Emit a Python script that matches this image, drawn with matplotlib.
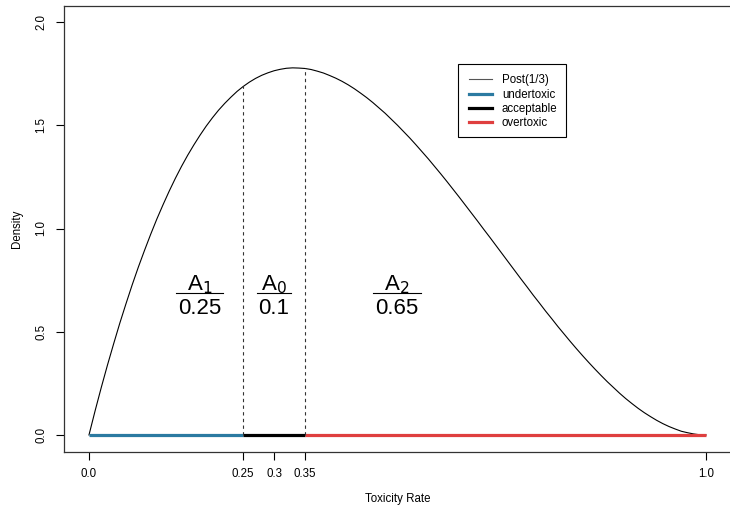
import matplotlib
matplotlib.use("Agg")
import matplotlib.pyplot as plt
from matplotlib.lines import Line2D
from matplotlib.patches import Rectangle

plt.rcParams['font.family'] = ['Liberation Sans', 'DejaVu Sans']

# posterior density at steps of 0.01
x = [i / 100 for i in range(101)]
dens = [0.0, 0.118, 0.231, 0.339, 0.442, 0.542, 0.636, 0.727, 0.813, 0.894,
        0.972, 1.046, 1.115, 1.181, 1.243, 1.301, 1.355, 1.405, 1.452, 1.496,
        1.536, 1.573, 1.606, 1.636, 1.664, 1.688, 1.709, 1.727, 1.742, 1.754,
        1.764, 1.771, 1.776, 1.778, 1.777, 1.775, 1.770, 1.762, 1.753, 1.741,
        1.728, 1.713, 1.696, 1.677, 1.656, 1.634, 1.610, 1.584, 1.558, 1.529,
        1.500, 1.469, 1.438, 1.405, 1.371, 1.337, 1.301, 1.265, 1.228, 1.190,
        1.152, 1.113, 1.074, 1.035, 0.995, 0.956, 0.916, 0.876, 0.836, 0.796,
        0.756, 0.717, 0.677, 0.639, 0.600, 0.563, 0.525, 0.489, 0.453, 0.418,
        0.384, 0.351, 0.319, 0.288, 0.258, 0.230, 0.202, 0.176, 0.152, 0.129,
        0.108, 0.089, 0.071, 0.055, 0.041, 0.029, 0.018, 0.011, 0.005, 0.001,
        0.0]

cut_lo, cut_hi = 0.25, 0.35
intervals = [(0.0, 0.25), (0.25, 0.35), (0.35, 1.0)]
int_names = ['undertoxic', 'acceptable', 'overtoxic']
int_cols = ['#2b7aa1', '#000000', '#df3f3f']
areas = [('A$_1$', '0.25'), ('A$_0$', '0.1'), ('A$_2$', '0.65')]
xticks = [0.0, 0.25, 0.3, 0.35, 1.0]
xtick_labels = ['0.0', '0.25', '0.3', '0.35', '1.0']
xtick_cols = ['black', '#8fbcd6', 'black', '#e88a8a', 'black']
yticks = [0.0, 0.5, 1.0, 1.5, 2.0]

fig = plt.figure(figsize=(7.3, 5.08), dpi=100)
ax = fig.add_axes([64.3 / 730, 56.5 / 508, 666.4 / 730, 446 / 508])

ax.plot(x, dens, color='black', lw=0.8)
for (a, b), c in zip(intervals, int_cols):
    ax.plot([a, b], [0, 0], color=c, lw=2.3, solid_capstyle='butt')
for c in (cut_lo, cut_hi):
    h = dens[x.index(c)]
    ax.plot([c, c], [0, h], color='#333333', lw=0.8, ls=(0, (3, 3)))

# area labels as fractions
centers = [0.179, 0.300, 0.499]
widths = [0.076, 0.055, 0.078]
for (num, den), px, w in zip(areas, centers, widths):
    ax.text(px, 0.702, num, ha='center', va='baseline', fontsize=16)
    ax.plot([px - w / 2, px + w / 2], [0.688, 0.688], color='black', lw=0.8)
    ax.text(px, 0.586, den, ha='center', va='baseline', fontsize=16)

ax.set_xlim(-0.04, 1.04)
ax.set_ylim(-0.08, 2.08)
ax.spines['right'].set_visible(False)
for s in ax.spines.values():
    s.set_color('#333333')
    s.set_linewidth(0.9)

ax.set_xticks(xticks)
ax.set_xticklabels(xtick_labels)
for t, c in zip(ax.xaxis.get_major_ticks(), xtick_cols):
    t.tick1line.set_color(c)
ax.set_yticks(yticks)
ax.set_yticklabels(['%.1f' % v for v in yticks], rotation=90, va='center')
ax.tick_params(direction='out', length=6, width=0.8, labelsize=8.3)
ax.tick_params(axis='x', pad=6)
ax.tick_params(axis='y', pad=6)

ax.set_xlabel('Toxicity Rate', fontsize=8.3, labelpad=9)
ax.set_ylabel('Density', fontsize=8.3, labelpad=9)

# legend frame drawn separately so the padding matches
ax.add_patch(Rectangle((458 / 730, 1 - 137 / 508), 108 / 730, 73 / 508,
                       transform=fig.transFigure, facecolor='white',
                       edgecolor='black', lw=0.8, zorder=4))
handles = [Line2D([], [], color='#555555', lw=0.8)]
handles += [Line2D([], [], color=c, lw=2.3) for c in int_cols]
leg = ax.legend(handles, ['Post(1/3)'] + int_names, loc='upper left',
                bbox_to_anchor=(469 / 730, 1 - 74.5 / 508), bbox_transform=fig.transFigure,
                borderaxespad=0, borderpad=0, fontsize=8.3, frameon=False,
                handlelength=2.0, labelspacing=0.2, handletextpad=0.85)
leg.set_zorder(5)

fig.savefig('out.png', dpi=100)
